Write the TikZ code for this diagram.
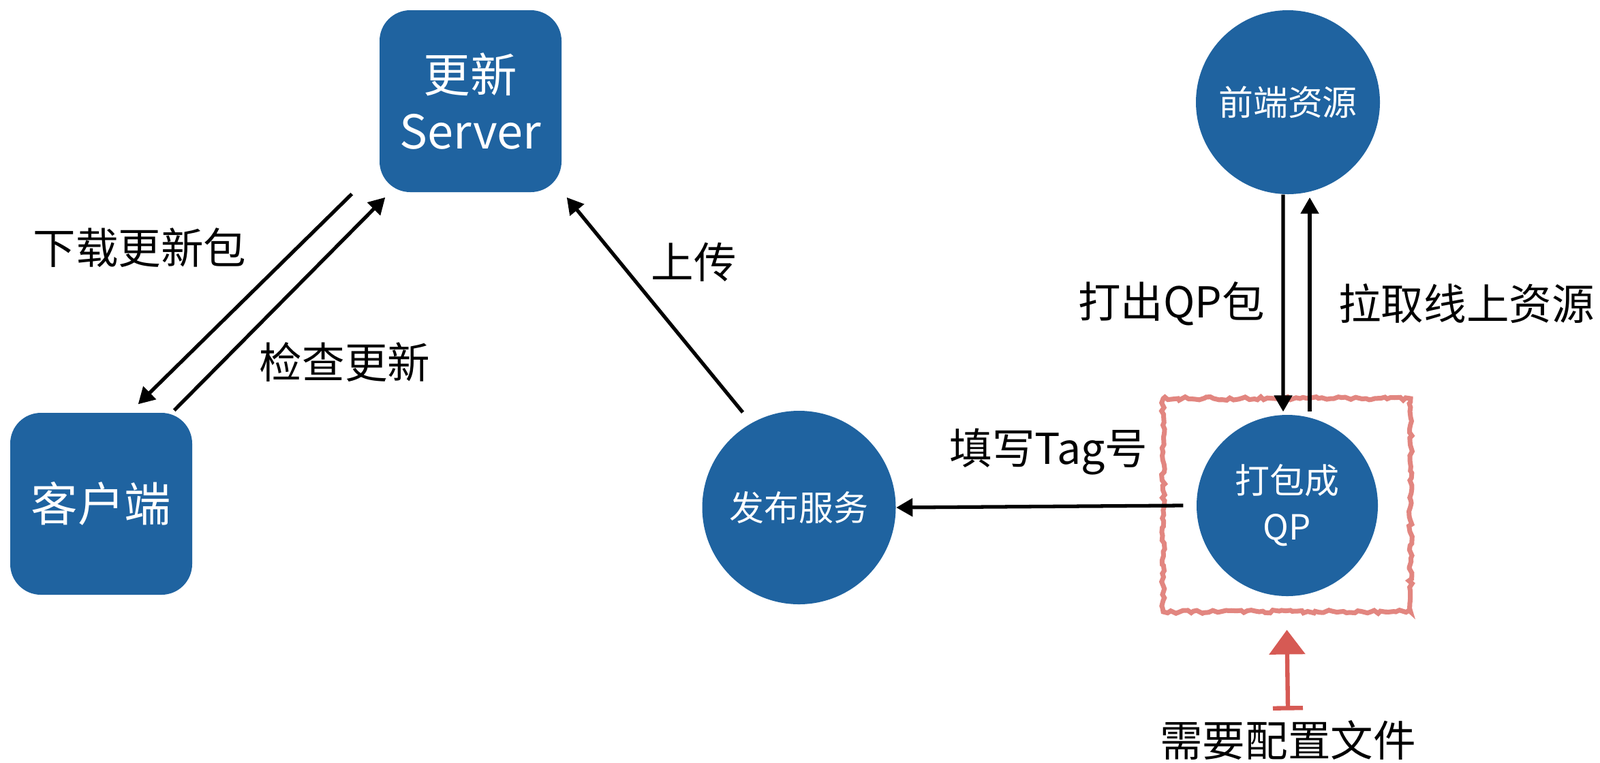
\documentclass[tikz,border=0pt]{standalone}
\usepackage{fontspec}
\setmainfont{Noto Sans CJK SC}
\usepackage{tikz}
\usetikzlibrary{arrows.meta,calc,decorations.pathmorphing}
\definecolor{nodeblue}{RGB}{31,99,160}
\definecolor{sketchred}{RGB}{226,134,128}
\definecolor{notered}{RGB}{214,90,84}

\begin{document}
\begin{tikzpicture}[
  box/.style = {fill=nodeblue, text=white, rounded corners=0.45cm, minimum size=2.67cm,
                align=center, font=\fontsize{19.5pt}{23.5pt}\selectfont},
  blob/.style = {circle, fill=nodeblue, text=white, inner sep=0pt, align=center,
                 font=\fontsize{14.5pt}{19.4pt}\selectfont},
  lbl/.style = {font=\fontsize{17.8pt}{21pt}\selectfont},
  arr/.style = {line width=1.5pt, -{Triangle[length=0.24cm,width=0.26cm]}},
  sketchbox/.style = {draw=sketchred, line width=2pt, minimum width=3.63cm, minimum height=3.13cm,
                      decorate, decoration={random steps, segment length=1.6pt, amplitude=0.7pt}},
  redarr/.style = {draw=notered, line width=1.8pt,
                   {Bar[width=0.44cm,line width=1.8pt]}-{Triangle[length=0.36cm,width=0.52cm]}}
]
  \useasboundingbox (0,0) rectangle (23.48,-11.19);
  \node (srv) [box] at (6.905,-1.485) {更新\\Server};
  \node (cli) [box] at (1.485,-7.395) {客户端};
  \node (pub) [blob, minimum size=2.84cm] at (11.725,-7.45) {发布服务};
  \node (fe) [blob, minimum size=2.7cm] at (18.90,-1.50) {前端资源};
  \node (qp) [blob, minimum size=2.66cm] at (18.89,-7.42) {打包成\\QP};
  \node (cfgbox) [sketchbox] at (18.885,-7.415) {};
  \node (cfg) [lbl] at (18.90,-10.86) {需要配置文件};
  \node (dl) [lbl] at (2.05,-3.64) {下载更新包};
  \node (ck) [lbl] at (5.06,-5.32) {检查更新};
  \node (up) [lbl] at (10.18,-3.85) {上传};
  \node (tag) [lbl] at (15.39,-6.63) {填写Tag号};
  \node (out) [lbl] at (17.19,-4.46) {打出QP包};
  \node (pull) [lbl] at (21.52,-4.46) {拉取线上资源};
  \draw[arr] ([xshift=-0.4cm,yshift=-0.02cm]srv.south west)--([xshift=-0.8cm,yshift=0.12cm]cli.north east);
  \draw[arr] ([xshift=-0.27cm,yshift=0.03cm]cli.north east)--([xshift=0.09cm,yshift=-0.07cm]srv.south west);
  \draw[arr] ([xshift=-0.825cm,yshift=-0.03cm]pub.north)--([xshift=0.07cm,yshift=-0.07cm]srv.south east);
  \draw[arr] ([xshift=-0.19cm]qp.west)--(pub.east);
  \draw[arr] ([xshift=-0.07cm]fe.south)--([xshift=-0.06cm,yshift=0.04cm]qp.north);
  \draw[arr] ([xshift=0.33cm,yshift=0.04cm]qp.north)--([xshift=0.32cm,yshift=-0.04cm]fe.south);
  \draw[redarr] ([yshift=0.02cm]cfg.north)--([yshift=-0.23cm]cfgbox.south);
\end{tikzpicture}
\end{document}
